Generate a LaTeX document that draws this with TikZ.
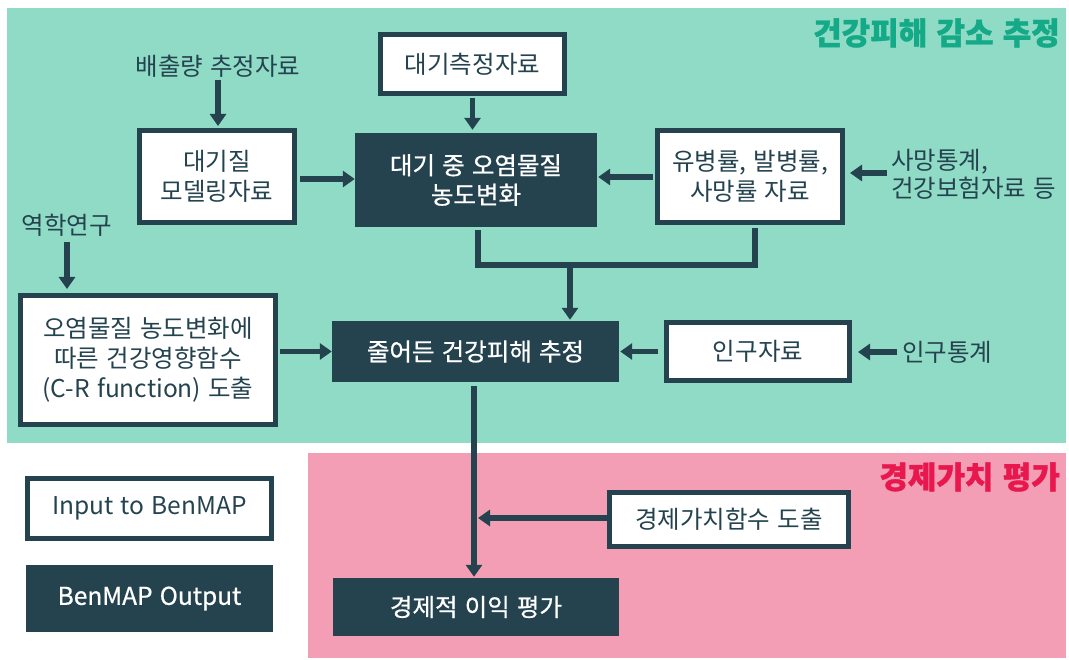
\documentclass[tikz,border=0pt]{standalone}
\usepackage{fontspec}
\setmainfont{Noto Sans CJK KR}[WordSpace=1.3]
\usetikzlibrary{arrows.meta,calc}
\definecolor{dk}{HTML}{24434F}
\definecolor{tealbg}{HTML}{90DBC6}
\definecolor{pinkbg}{HTML}{F39EB5}
\definecolor{tealtxt}{HTML}{14AA88}
\definecolor{pinktxt}{HTML}{E8184E}
\tikzset{
  inbox/.style={draw=dk, line width=5pt, fill=white, text=dk, align=center, inner sep=0pt,
    font=\fontsize{24.5}{29.5}\selectfont},
  outbox/.style={fill=dk, draw=none, text=white, align=center, inner sep=0pt,
    font=\fontsize{24.5}{29.5}\selectfont\addfontfeature{FakeBold=0.7}},
  lbl/.style={text=dk, inner sep=0pt, font=\fontsize{24.5}{28}\selectfont},
  ttl/.style={inner sep=0pt, anchor=east, font=\fontsize{31}{34}\selectfont\bfseries\addfontfeature{FakeBold=1.2}},
  arr/.style={draw=dk, line width=5.5pt, -{Triangle[length=12pt,width=16pt]}},
  ln/.style={draw=dk, line width=5.5pt, line join=miter}
}
\begin{document}
\begin{tikzpicture}[x=1pt,y=-1pt]
\useasboundingbox (0,0) rectangle (1069,660);
% regions
\fill[tealbg] (7,8) rectangle (1066,443);
\fill[pinkbg] (308,453) rectangle (1066,658);
\node[ttl, text=tealtxt] (t1) at (1060,33) {건강피해 감소 추정};
\node[ttl, text=pinktxt] (t2) at (1060,477) {경제가치 평가};
% boxes (size = outer - 5 for bordered)
\node[inbox, minimum width=184pt, minimum height=59pt] (meas) at (472.5,64) {대기측정자료};
\node[inbox, minimum width=155pt, minimum height=92pt] (model) at (217,176.5) {대기질\\모델링자료};
\node[outbox, minimum width=242pt, minimum height=94pt] (conc) at (476,180) {대기 중 오염물질\\농도변화};
\node[inbox, minimum width=185pt, minimum height=92pt] (rate) at (750,176.5) {유병률, 발병률,\\사망률 자료};
\node[inbox, minimum width=255pt, minimum height=129pt, font=\fontsize{24.5}{30}\selectfont] (cr) at (148,360) {오염물질 농도변화에\\따른 건강영향함수\\(C-R function) 도출};
\node[outbox, minimum width=287pt, minimum height=61pt] (red) at (475.5,351.5) {줄어든 건강피해 추정};
\node[inbox, minimum width=183pt, minimum height=58pt] (pop) at (758,351.5) {인구자료};
\node[inbox, minimum width=239pt, minimum height=54pt] (econf) at (729,519.5) {경제가치함수 도출};
\node[outbox, minimum width=286pt, minimum height=58pt] (econ) at (476,607) {경제적 이익 평가};
\node[inbox, minimum width=244pt, minimum height=60pt] (lin) at (149.5,508.5) {Input to BenMAP};
\node[outbox, minimum width=247pt, minimum height=67pt] (lout) at (149.5,598.5) {BenMAP Output};
% free labels
\node[lbl] (emis) at (218,66) {배출량 추정자료};
\node[lbl] (epi) at (67,225) {역학연구};
\node[lbl, anchor=west, align=left] (death) at (891,174) {사망통계,\\건강보험자료 등};
\node[lbl, anchor=west] (popstat) at (902,352) {인구통계};
% connectors
\draw[arr, shorten <=3pt, shorten >=2pt] (emis.south) -- (emis.south |- model.north);
\draw[arr, shorten <=2pt, shorten >=3pt] (meas.south) -- (meas.south |- conc.north);
\draw[arr, shorten <=3pt] (model.east |- 0,179) -- (conc.west |- 0,179);
\draw[arr, shorten <=2pt, shorten >=1pt] (rate.west |- 0,177) -- (conc.east |- 0,177);
\draw[arr, shorten <=4pt, shorten >=5pt] (death.west |- 0,173) -- (rate.east |- 0,173);
\coordinate (jl) at (478,265);
\coordinate (jr) at (755,265);
\coordinate (jm) at (570,265);
\draw[ln] ([yshift=-3pt]conc.south -| jl) -- (jl) -- (jr) -- ([yshift=-3pt]rate.south -| jr);
\draw[arr, shorten >=1pt] (jm) -- (jm |- red.north);
\draw[arr, shorten <=6pt, shorten >=4pt] (epi.south) -- (epi.south |- cr.north);
\draw[arr, shorten <=2pt] (cr.east |- red.west) -- (red.west);
\draw[arr, shorten <=6pt, shorten >=1pt] (pop.west) -- (red.east |- pop.west);
\draw[arr, shorten <=5pt, shorten >=6pt] (popstat.west) -- (pop.east |- popstat.west);
\coordinate (vx) at (474,0);
\draw[arr, shorten <=2pt, shorten >=1pt] ([yshift=-2pt]red.south -| vx) -- (econ.north -| vx);
\coordinate (hit) at (478,518);
\draw[arr] (econf.west |- hit) -- (hit);
\end{tikzpicture}
\end{document}
